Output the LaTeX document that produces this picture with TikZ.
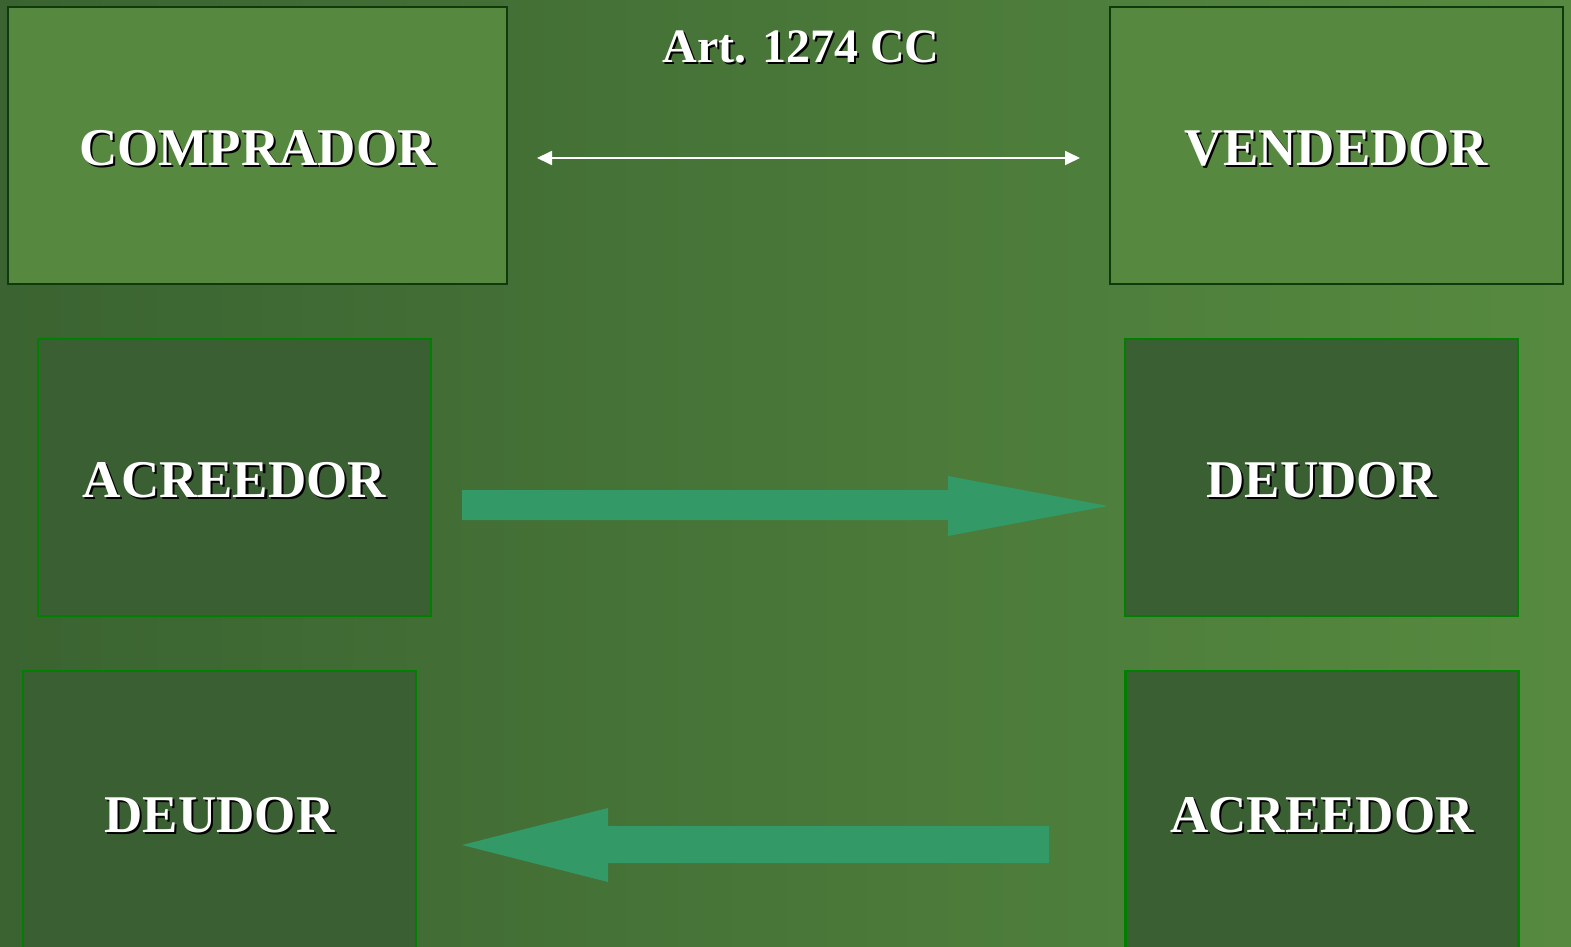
\documentclass[tikz,border=0pt]{standalone}
\usepackage{fontspec}
\setmainfont{Liberation Serif}
\usetikzlibrary{arrows.meta}
\definecolor{bgL}{HTML}{3A6331}
\definecolor{bgR}{HTML}{578A40}
\definecolor{topfill}{HTML}{578840}
\definecolor{topborder}{HTML}{0E3A0C}
\definecolor{lowfill}{HTML}{3A5F32}
\definecolor{lowborder}{HTML}{008000}
\definecolor{arrowfill}{HTML}{339966}
\newcommand\shtext[1]{\rlap{\kern2pt\raisebox{-2pt}{\textcolor{black}{#1}}}\textcolor{white}{#1}}
\begin{document}
\begin{tikzpicture}[x=1pt,y=-1pt,
  boxtext/.style={font=\bfseries\fontsize{53}{60}\selectfont, text height=42pt, text depth=2pt},
  topbox/.style={draw=topborder, line width=2pt, fill=topfill, inner sep=0pt,
    minimum width=499pt, minimum height=277pt, boxtext},
  lowbox/.style={draw=lowborder, line width=2.5pt, fill=lowfill, inner sep=0pt,
    minimum width=393pt, minimum height=277pt, boxtext},
  fatarrow/.style={fill=arrowfill, draw=none},
  thin/.style={draw=white, line width=1.8pt, {Triangle[length=15pt,width=14pt]}-{Triangle[length=15pt,width=14pt]}}
]
\useasboundingbox (0,0) rectangle (1571,947);
\clip (0,0) rectangle (1571,947);
\shade[left color=bgL, right color=bgR] (0,0) rectangle (1571,947);

\node[topbox] (comprador) at (257.5,145.5) {\shtext{COMPRADOR}};
\node[topbox, minimum width=453pt] (vendedor) at (1336.5,145.5) {\shtext{VENDEDOR}};
\node[font=\bfseries\fontsize{48}{56}\selectfont, inner sep=0pt] (art) at (801,48) {\shtext{Art. 1274 CC}};

\node[lowbox] (acre1) at (234.5,477.5) {\shtext{ACREEDOR}};
\node[lowbox] (deud1) at (1321.5,477.5) {\shtext{DEUDOR}};
\node[lowbox, minimum height=282pt] (deud2) at (219.5,812) {\shtext{DEUDOR}};
\node[lowbox, minimum height=282pt] (acre2) at (1322,812) {\shtext{ACREEDOR}};

\coordinate (dl) at (537,158);
\coordinate (dr) at (1080,158);
\draw[thin] (dl) -- (dr);

\fill[fatarrow] (462,490) -- (948,490) -- (948,476) -- (1108,506) -- (948,536) -- (948,520) -- (462,520) -- cycle;
\fill[fatarrow] (1049,826) -- (608,826) -- (608,808) -- (462,845) -- (608,882) -- (608,863) -- (1049,863) -- cycle;
\end{tikzpicture}
\end{document}
